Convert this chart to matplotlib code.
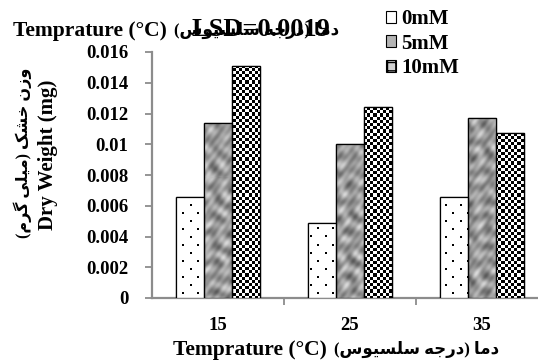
import numpy as np
import matplotlib
matplotlib.use("Agg")
import matplotlib.pyplot as plt
from matplotlib.patches import Patch

# --- data ---
temps = ["15", "25", "35"]
series = ["0mM", "5mM", "10mM"]
dw_0mM = [0.0066, 0.0049, 0.0066]
dw_5mM = [0.0114, 0.0100, 0.0117]
dw_10mM = [0.0151, 0.0124, 0.0107]
y_ticks = [0, 0.002, 0.004, 0.006, 0.008, 0.01, 0.012, 0.014, 0.016]
y_ticklabels = ["0", "0.002", "0.004", "0.006", "0.008", "0.01", "0.012", "0.014", "0.016"]
lsd_text = "LSD=0.0019"
x_label_en = "Temprature (°C) "
x_label_fa = "دما (درجه سلسیوس)"
y_label_en = "Dry Weight (mg)"
y_label_fa = "وزن خشک (میلی گرم)"

# --- tiny Persian shaper (matplotlib has no bidi / shaping) ---
FORMS = {
    "د": ("\ufea9", "\ufeaa"), "ا": ("\ufe8d", "\ufe8e"), "ر": ("\ufead", "\ufeae"),
    "و": ("\ufeed", "\ufeee"), "ز": ("\ufeaf", "\ufeb0"),
    "م": ("\ufee1", "\ufee2", "\ufee3", "\ufee4"), "ج": ("\ufe9d", "\ufe9e", "\ufe9f", "\ufea0"),
    "ه": ("\ufee9", "\ufeea", "\ufeeb", "\ufeec"), "س": ("\ufeb1", "\ufeb2", "\ufeb3", "\ufeb4"),
    "ل": ("\ufedd", "\ufede", "\ufedf", "\ufee0"), "ی": ("\ufbfc", "\ufbfd", "\ufbfe", "\ufbff"),
    "ن": ("\ufee5", "\ufee6", "\ufee7", "\ufee8"), "خ": ("\ufea5", "\ufea6", "\ufea7", "\ufea8"),
    "ش": ("\ufeb5", "\ufeb6", "\ufeb7", "\ufeb8"), "ک": ("\ufb8e", "\ufb8f", "\ufb90", "\ufb91"),
    "گ": ("\ufb92", "\ufb93", "\ufb94", "\ufb95"),
}


def rtl(text):
    out = []
    for i, c in enumerate(text):
        f = FORMS.get(c)
        if f is None:
            out.append(c)
            continue
        prev = text[i - 1] if i > 0 else None
        nxt = text[i + 1] if i + 1 < len(text) else None
        jp = prev in FORMS and len(FORMS[prev]) == 4
        jn = len(f) == 4 and nxt in FORMS
        if jp and jn:
            out.append(f[3])
        elif jp:
            out.append(f[1])
        elif jn:
            out.append(f[2])
        else:
            out.append(f[0])
    vis = "".join(reversed(out))
    return vis.translate(str.maketrans("()", ")("))


FONT = ["Liberation Serif", "DejaVu Sans"]
plt.rcParams["font.family"] = FONT
plt.rcParams["font.weight"] = "bold"

fig = plt.figure(figsize=(5.38, 3.64), dpi=100)
ax = fig.add_axes([152 / 538, 1 - 298 / 364, 396 / 538, 246 / 364])

x = np.arange(len(temps))
w = 0.21
b0 = ax.bar(x - w, dw_0mM, w, facecolor="white", edgecolor="black", linewidth=0.9, zorder=3)
b5 = ax.bar(x, dw_5mM, w, facecolor="#a0a0a0", edgecolor="black", linewidth=0.9, zorder=3)
b10 = ax.bar(x + w, dw_10mM, w, facecolor="white", edgecolor="black", linewidth=0.9, zorder=3)

# textures in axes pixel space, clipped to each bar
H, W = 246, 396
gy, gx = np.mgrid[0:H, 0:W]
# sparse staggered dots
dots = np.ones((H, W))
on = ((gy % 8) < 2) & (((gx + 7 * ((gy // 8) % 2)) % 15) < 2)
dots[on] = 0.0
# checkerboard
checker = ((gy // 3.2).astype(int) + (gx // 3.2).astype(int)) % 2 * 1.0
# mottled grey
m = (np.sin(gx * 0.37 + 1.1 * np.sin(gy * 0.29))
     + np.sin(gy * 0.41 + 1.2 * np.sin(gx * 0.23))
     + np.sin((gx - gy) * 0.26 + 0.9 * np.cos((gx + gy) * 0.17))
     + 0.6 * np.sin(gx * 0.83 + gy * 0.61))
mottle = np.clip(0.60 + 0.07 * m, 0, 1)

for bars, img in ((b0, dots), (b5, mottle), (b10, checker)):
    for bar in bars:
        im = ax.imshow(img, cmap="gray", vmin=0, vmax=1, extent=(0, 1, 0, 1),
                       transform=ax.transAxes, interpolation="nearest", aspect="auto", zorder=3.5)
        im.set_clip_path(bar)
        ax.add_patch(plt.Rectangle(bar.get_xy(), bar.get_width(), bar.get_height(),
                                   fill=False, edgecolor="black", linewidth=0.9, zorder=4))

ax.set_xlim(-0.5, 2.5)
ax.set_ylim(0, 0.016)
ax.set_yticks(y_ticks)
ax.set_yticklabels(y_ticklabels)
ax.set_xticks(x)
ax.set_xticklabels(temps)
ax.set_xticks([0.5, 1.5], minor=True)
ax.tick_params(axis="x", which="major", length=0, pad=14, labelsize=13.5)
ax.tick_params(axis="x", which="minor", length=5, color="#8c8c8c", width=1.3)
ax.tick_params(axis="y", length=5, color="#8c8c8c", width=1.3, pad=12, labelsize=13.5)
for s in ("top", "right"):
    ax.spines[s].set_visible(False)
for s in ("left", "bottom"):
    ax.spines[s].set_color("#8c8c8c")
    ax.spines[s].set_linewidth(1.6)

# x label: English part, then the Persian part right after it
t_en = fig.text(173 / 538, 1 - 350 / 364, x_label_en, ha="left", va="center",
                fontsize=15.5, fontweight="bold")
fig.canvas.draw()
x_end = fig.transFigure.inverted().transform(t_en.get_window_extent().p1)[0]
fig.text(x_end + 2 / 538, 1 - 349 / 364, rtl(x_label_fa), ha="left", va="center",
         fontsize=12, fontweight="bold")

# y label: Persian line and English line
fig.text(23 / 538, 1 - 153 / 364, rtl(y_label_fa), rotation=90, ha="center", va="center",
         fontsize=11.5, fontweight="bold")
fig.text(48 / 538, 1 - 155 / 364, y_label_en, rotation=90, ha="center", va="center",
         fontsize=15, fontweight="bold")

# top-left: same label repeated, with the LSD text lying over its Persian part
t_top = fig.text(13 / 538, 1 - 31 / 364, x_label_en, ha="left", va="center",
                 fontsize=15.5, fontweight="bold")
fig.canvas.draw()
x_top = fig.transFigure.inverted().transform(t_top.get_window_extent().p1)[0]
fig.text(x_top + 2 / 538, 1 - 30 / 364, rtl(x_label_fa), ha="left", va="center",
         fontsize=12, fontweight="bold")
fig.text(192 / 538, 1 - 29 / 364, lsd_text, ha="left", va="center", fontsize=19,
         fontweight="bold", zorder=5)

handles = [
    Patch(facecolor="white", edgecolor="black", linewidth=0.8),
    Patch(facecolor="#b4b4b4", edgecolor="black", linewidth=0.8),
    Patch(facecolor="#d0d0d0", edgecolor="black", hatch="++", linewidth=0.8),
]
fig.legend(handles, series, loc="upper left", bbox_to_anchor=(386 / 538, 1 - 9 / 364),
           frameon=False, fontsize=15, handlelength=0.5, handleheight=0.5,
           handletextpad=0.25, labelspacing=0.22, borderpad=0.0, borderaxespad=0.0)

fig.savefig("out.png", dpi=100)
